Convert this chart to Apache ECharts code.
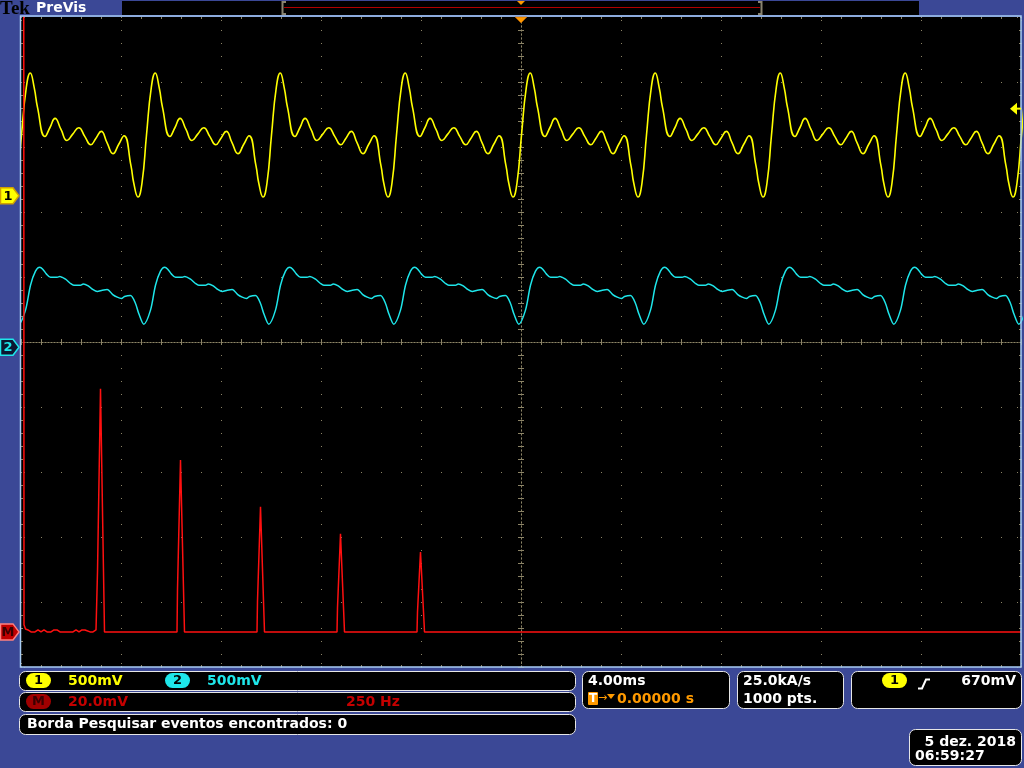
<!DOCTYPE html>
<html><head><meta charset="utf-8">
<script src="https://cdn.jsdelivr.net/npm/echarts@6/dist/echarts.min.js"></script>
<style>html,body{margin:0;padding:0;background:#3b4896;}#c{width:1024px;height:768px;}</style>
</head><body><div id="c"></div>
<script>
// ---------------- scope settings ----------------
const timeMsPerDiv = 4;          // 4.00ms
const fftHzPerDiv = 250;         // 250 Hz
const ch1VoltsPerDiv = 0.5;      // 500mV
const ch2VoltsPerDiv = 0.5;      // 500mV
const mathMvPerDiv = 20;         // 20.0mV
const ch1PositionDiv = 2.25;     // ground marker "1"
const ch2PositionDiv = -0.08;    // ground marker "2"
const mathPositionDiv = -4.46;   // ground marker "M"
const triggerLevelV = 0.67;      // 670mV
const triggerTimeMs = 0;         // 0.00000 s

// ---------------- channel 1 (yellow): one period ----------------
const ch1PeriodMs = 5.0;
const ch1FirstPeakMs = 0.37;
const ch1PeriodT = [0, 0.16, 0.29, 0.59, 0.79, 0.99, 1.23, 1.47, 1.70, 1.94, 2.18, 2.42, 2.63, 2.84, 3.07, 3.31, 3.53, 3.75, 4.03, 4.14, 4.31, 4.47, 4.65, 4.84];
const ch1PeriodV = [0.944, 0.83, 0.68, 0.456, 0.525, 0.595, 0.51, 0.425, 0.474, 0.523, 0.457, 0.392, 0.443, 0.495, 0.409, 0.323, 0.392, 0.462, 0.23, 0.098, -0.01, 0.098, 0.467, 0.83];

// ---------------- channel 2 (cyan): one period ----------------
const ch2PeriodMs = 5.0;
const ch2FirstTroughMs = -0.09;
const ch2PeriodT = [0, 0.27, 0.47, 0.67, 0.84, 0.96, 1.11, 1.27, 1.54, 1.64, 1.87, 2.07, 2.20, 2.47, 2.58, 2.78, 2.96, 3.14, 3.34, 3.54, 3.76, 3.94, 4.11, 4.23, 4.47, 4.67, 4.80];
const ch2PeriodV = [0.177, 0.285, 0.477, 0.585, 0.615, 0.600, 0.562, 0.538, 0.538, 0.544, 0.523, 0.490, 0.477, 0.477, 0.487, 0.472, 0.444, 0.428, 0.438, 0.444, 0.405, 0.385, 0.375, 0.390, 0.398, 0.336, 0.259];

// ---------------- math M (red): FFT magnitude ----------------
const fftHz = [0, 6.25, 8.75, 10, 12.5, 15, 20, 25, 35, 40, 45, 50, 55, 60, 65, 75, 80, 85, 90, 95, 100, 105, 110, 115, 120, 130, 135, 140, 145, 150, 155, 160, 165, 180, 185, 190,
  192.5, 195, 197.5, 200, 202.5, 205, 207.5, 210,
  390, 392.5, 395, 397.5, 400, 402.5, 405, 407.5, 410,
  590, 592.5, 595, 597.5, 600, 602.5, 605, 607.5, 610,
  790, 792.5, 795, 797.5, 800, 802.5, 805, 807.5, 810,
  990, 992.5, 995, 997.5, 1000, 1002.5, 1005, 1007.5, 1010,
  1197.5, 1200, 1202.5, 1397.5, 1400, 1402.5, 1597.5, 1600, 1602.5,
  1997.5, 2000, 2002.5, 2197.5, 2200, 2202.5, 2397.5, 2400, 2402.5, 2500];
const fftMv = [400, 400, 2.2, 1.6, 0.9, 0.6, 0.6, 0, 0, 0.6, 0.6, 0, 0.6, 0.6, 0, 0, 0.6, 0.6, 0.6, 0, 0.6, 0, 0, 0.6, 0, 0, 0.6, 0.6, 0, 0.6, 0, 0.6, 0, 0, 0.6, 0,
  18.5, 37.2, 56.0, 74.8, 56.0, 37.2, 18.5, 0,
  0, 13.2, 26.5, 39.7, 52.9, 39.7, 26.5, 13.2, 0,
  0, 9.6, 19.2, 28.9, 38.5, 28.9, 19.2, 9.6, 0,
  0, 7.5, 15.1, 22.6, 30.2, 22.6, 15.1, 7.5, 0,
  0, 6.2, 12.3, 18.5, 24.6, 18.5, 12.3, 6.2, 0,
  0, 0.6, 0, 0, 0.6, 0, 0, 0.6, 0,
  0, 0.6, 0, 0, 0.6, 0, 0, 0.6, 0, 0];

// ---------------- screen texts ----------------
const ch1ScaleText = '500mV', ch2ScaleText = '500mV';
const mathScaleText = '20.0mV', mathSpanText = '250 Hz';
const searchText = 'Borda Pesquisar eventos encontrados: 0';
const timebaseText = '4.00ms', triggerPosText = '0.00000 s';
const sampleRateText = '25.0kA/s', recordText = '1000 pts.';
const triggerLevelText = '670mV';
const dateText = '5 dez. 2018', clockText = '06:59:27';

// ---------------- build series from one measured period ----------------
function tilePeriod(periodT, periodV, firstMs, periodMs) {
  const out = [];
  for (let k = -5; k <= 4; k++) {
    for (let i = 0; i < periodT.length; i++) out.push([firstMs + k * periodMs + periodT[i], periodV[i]]);
  }
  return out;
}
const ch1Data = tilePeriod(ch1PeriodT, ch1PeriodV, ch1FirstPeakMs, ch1PeriodMs);
const ch2Data = tilePeriod(ch2PeriodT, ch2PeriodV, ch2FirstTroughMs, ch2PeriodMs);
const fftData = fftHz.map((f, i) => [f, fftMv[i]]);

const TAN = '#8c8466';
const FONT = '"DejaVu Sans", sans-serif';
const GRID = { left: 21, top: 17, width: 1000, height: 650 };

function gratAxisX(extra) {
  return Object.assign({
    type: 'value', gridIndex: 0, min: -5, max: 5, interval: 1,
    axisLabel: { show: false }, splitLine: { show: false },
    axisLine: { show: false, onZero: false },
    axisTick: { show: true, inside: true, length: 6, lineStyle: { color: TAN, type: [1, 2] } },
    minorTick: { show: true, splitNumber: 5, length: 2, lineStyle: { color: TAN } }
  }, extra);
}
function gratAxisY(extra) {
  return Object.assign({
    type: 'value', gridIndex: 0, min: -5, max: 5, interval: 1,
    axisLabel: { show: false }, splitLine: { show: false },
    axisLine: { show: false, onZero: false },
    axisTick: { show: true, inside: true, length: 6, lineStyle: { color: TAN, type: [1, 2] } },
    minorTick: { show: true, splitNumber: 5, length: 2, lineStyle: { color: TAN } }
  }, extra);
}

const option = {
  animation: false,
  backgroundColor: '#3b4896',
  textStyle: { fontFamily: FONT },
  grid: [{ left: GRID.left, top: GRID.top, width: GRID.width, height: GRID.height, show: true, backgroundColor: '#000', borderWidth: 0 }],
  xAxis: [
    { type: 'value', gridIndex: 0, min: -5 * timeMsPerDiv, max: 5 * timeMsPerDiv, show: false },
    { type: 'value', gridIndex: 0, min: 0, max: 10 * fftHzPerDiv, show: false },
    gratAxisX({ position: 'bottom',
      axisLine: { show: true, onZero: true, onZeroAxisIndex: 3, lineStyle: { color: TAN, type: [1, 2], width: 1 } },
      axisTick: { show: true, inside: true, length: 3, lineStyle: { color: TAN } },
      minorTick: { show: true, splitNumber: 5, length: 3, lineStyle: { color: TAN } },
      splitLine: { show: true, lineStyle: { color: TAN, type: [1, 12], width: 1 } } }),
    gratAxisX({ position: 'bottom',
      axisLine: { show: true, onZero: true, onZeroAxisIndex: 3, lineStyle: { color: TAN, type: [1, 2], width: 1 } },
      axisTick: { show: true, inside: false, length: 3, lineStyle: { color: TAN } },
      minorTick: { show: true, splitNumber: 5, length: 3, lineStyle: { color: TAN } } }),
    gratAxisX({ position: 'top' }),
    gratAxisX({ position: 'bottom' })
  ],
  yAxis: [
    { type: 'value', gridIndex: 0, min: -(5 + ch1PositionDiv) * ch1VoltsPerDiv, max: (5 - ch1PositionDiv) * ch1VoltsPerDiv, show: false },
    { type: 'value', gridIndex: 0, min: -(5 + ch2PositionDiv) * ch2VoltsPerDiv, max: (5 - ch2PositionDiv) * ch2VoltsPerDiv, show: false },
    { type: 'value', gridIndex: 0, min: -(5 + mathPositionDiv) * mathMvPerDiv, max: (5 - mathPositionDiv) * mathMvPerDiv, show: false },
    gratAxisY({ position: 'left',
      axisLine: { show: true, onZero: true, onZeroAxisIndex: 2, lineStyle: { color: TAN, type: [1, 3], width: 1 } },
      axisTick: { show: true, inside: true, length: 3, lineStyle: { color: TAN } },
      minorTick: { show: true, splitNumber: 5, length: 3, lineStyle: { color: TAN } },
      splitLine: { show: true, lineStyle: { color: TAN, type: [1, 19], width: 1 } } }),
    gratAxisY({ position: 'left',
      axisLine: { show: true, onZero: true, onZeroAxisIndex: 2, lineStyle: { color: TAN, type: [1, 3], width: 1 } },
      axisTick: { show: true, inside: false, length: 3, lineStyle: { color: TAN } },
      minorTick: { show: true, splitNumber: 5, length: 3, lineStyle: { color: TAN } } }),
    gratAxisY({ position: 'left' }),
    gratAxisY({ position: 'right' })
  ],
  series: [
    { name: 'CH1', type: 'line', xAxisIndex: 0, yAxisIndex: 0, data: ch1Data, smooth: 0.5, symbol: 'none', silent: true, z: 5,
      lineStyle: { color: '#ffff00', width: 1.6 } },
    { name: 'CH2', type: 'line', xAxisIndex: 0, yAxisIndex: 1, data: ch2Data, smooth: 0.3, symbol: 'none', silent: true, z: 5,
      lineStyle: { color: '#1ee6ea', width: 1.5 } },
    { name: 'M', type: 'line', xAxisIndex: 1, yAxisIndex: 2, data: fftData, step: 'middle', symbol: 'none', silent: true, z: 6,
      lineStyle: { color: '#ff1010', width: 1.5 } }
  ]
};

const chart = echarts.init(document.getElementById('c'), null, { renderer: 'canvas' });
chart.setOption(option);

// ---------------- screen chrome ----------------
const BFONT = 'bold 14px ' + FONT;
function txt(x, y, text, color, font, extra) {
  return { type: 'text', z: 100, silent: true,
    style: Object.assign({ x: x, y: y, text: text, fill: color, font: font || BFONT, align: 'left', verticalAlign: 'middle' }, extra || {}) };
}
function box(x, y, w, h) {
  return { type: 'rect', z: 90, silent: true, shape: { x: x + 0.5, y: y + 0.5, width: w, height: h, r: 6 },
    style: { fill: '#000', stroke: '#e6e6e6', lineWidth: 1 } };
}
function badge(x, y, w, h, fill, label, color, stroke) {
  return [
    { type: 'rect', z: 95, silent: true, shape: { x: x, y: y, width: w, height: h, r: h / 2 }, style: { fill: fill, stroke: stroke || null, lineWidth: 1 } },
    txt(x + w / 2, y + h / 2 + 0.5, label, color, 'bold 13px ' + FONT, { align: 'center' })
  ];
}
function tag(y, fill, stroke, label, color) {
  return [
    { type: 'polygon', z: 95, silent: true, shape: { points: [[0.5, y - 8], [13, y - 8], [19, y], [13, y + 8], [0.5, y + 8]] },
      style: { fill: fill, stroke: stroke, lineWidth: 1.5 } },
    txt(8, y + 0.5, label, color, 'bold 13px ' + FONT, { align: 'center' })
  ];
}

const y1 = chart.convertToPixel({ yAxisIndex: 0 }, 0);
const y2 = chart.convertToPixel({ yAxisIndex: 1 }, 0);
const yM = chart.convertToPixel({ yAxisIndex: 2 }, 0);
const yTrig = chart.convertToPixel({ yAxisIndex: 0 }, triggerLevelV);
const xTrig = chart.convertToPixel({ xAxisIndex: 0 }, triggerTimeMs);
const R = GRID.left + GRID.width;

const g = [];
// top bar
g.push(txt(0, 9, 'Tek', '#000', 'bold 19px "Liberation Serif", serif'));
g.push(txt(36, 8, 'PreVis', '#fff', BFONT));
g.push({ type: 'rect', z: 90, silent: true, shape: { x: 122, y: 1, width: 797, height: 14 }, style: { fill: '#000' } });
g.push({ type: 'line', z: 92, silent: true, shape: { x1: 284, y1: 7.5, x2: 760, y2: 7.5 }, style: { stroke: '#b00000', lineWidth: 1 } });
g.push({ type: 'polyline', z: 93, silent: true, shape: { points: [[286, 2], [282.5, 2], [282.5, 14], [286, 14]] }, style: { stroke: '#8a8470', lineWidth: 2, fill: null } });
g.push({ type: 'polyline', z: 93, silent: true, shape: { points: [[758, 2], [761.5, 2], [761.5, 14], [758, 14]] }, style: { stroke: '#8a8470', lineWidth: 2, fill: null } });
g.push({ type: 'polygon', z: 93, silent: true, shape: { points: [[xTrig - 4, 1], [xTrig + 4, 1], [xTrig, 5]] }, style: { fill: '#ff9900' } });
// plot frame
g.push({ type: 'rect', z: 80, silent: true, shape: { x: GRID.left - 0.5, y: GRID.top - 1, width: GRID.width + 0.5, height: GRID.height + 1 },
  style: { fill: null, stroke: '#a9cdf6', lineWidth: 1.5 } });
// trigger position & level
g.push({ type: 'polygon', z: 85, silent: true, shape: { points: [[xTrig - 6, GRID.top], [xTrig + 6, GRID.top], [xTrig, GRID.top + 6]] }, style: { fill: '#ff9900', stroke: '#c06000', lineWidth: 0.5 } });
g.push({ type: 'polygon', z: 85, silent: true, shape: { points: [[R - 11, yTrig], [R - 4, yTrig - 6], [R - 4, yTrig + 6]] }, style: { fill: '#ffff00' } });
g.push({ type: 'line', z: 85, silent: true, shape: { x1: R - 5, y1: yTrig, x2: R, y2: yTrig }, style: { stroke: '#ffff00', lineWidth: 2 } });
// ground markers
g.push(...tag(y1, '#ffff00', '#d0a000', '1', '#000'));
g.push(...tag(y2, '#0c1630', '#1ee6ea', '2', '#1ee6ea'));
g.push(...tag(yM, '#c00000', '#ff8080', 'M', '#3a0000'));

// bottom readouts
g.push(box(19, 671, 556, 19));
g.push(...badge(26, 673, 25, 15, '#ffff00', '1', '#000'));
g.push(txt(68, 681, ch1ScaleText, '#ffff00'));
g.push(...badge(165, 673, 25, 15, '#1ee6ea', '2', '#000'));
g.push(txt(207, 681, ch2ScaleText, '#1ee6ea'));

g.push(box(19, 692, 556, 19));
g.push(...badge(26, 694, 25, 15, '#a00000', 'M', '#3a0000'));
g.push(txt(68, 702, mathScaleText, '#c40000'));
g.push(txt(346, 702, mathSpanText, '#c40000'));

g.push(box(19, 714, 556, 20));
g.push(txt(27, 724.5, searchText, '#ffffff'));

g.push(box(582, 671, 147, 37));
g.push(txt(588, 681, timebaseText, '#ffffff'));
g.push({ type: 'rect', z: 95, silent: true, shape: { x: 588, y: 692, width: 10, height: 13, r: 1 }, style: { fill: '#ff9a00' } });
g.push(txt(593, 699, 'T', '#ffffff', 'bold 12px ' + FONT, { align: 'center' }));
g.push(txt(598, 698, '→', '#ff9a00', '11px ' + FONT));
g.push({ type: 'polygon', z: 95, silent: true, shape: { points: [[607, 694], [615, 694], [611, 699]] }, style: { fill: '#ff9a00' } });
g.push(txt(617, 699, triggerPosText, '#ff9a00'));

g.push(box(737, 671, 106, 37));
g.push(txt(743, 681, sampleRateText, '#ffffff'));
g.push(txt(743, 699, recordText, '#ffffff'));

g.push(box(851, 671, 170, 37));
g.push(...badge(882, 673, 25, 15, '#ffff00', '1', '#000'));
g.push({ type: 'polyline', z: 95, silent: true, shape: { points: [[918, 688.5], [922, 688.5], [926, 679.5], [930, 679.5]] }, style: { stroke: '#ffffff', lineWidth: 2, fill: null } });
g.push(txt(1016, 681, triggerLevelText, '#ffffff', BFONT, { align: 'right' }));

g.push(box(909, 729, 112, 36));
g.push(txt(1016, 742, dateText, '#ffffff', BFONT, { align: 'right' }));
g.push(txt(915, 756, clockText, '#ffffff'));

chart.setOption({ graphic: { elements: g } });
</script>
</body></html>
